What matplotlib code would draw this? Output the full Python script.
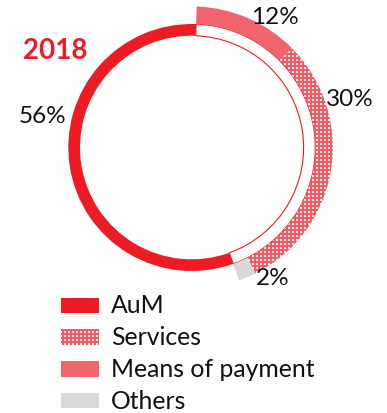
import matplotlib
matplotlib.use("Agg")
import matplotlib.pyplot as plt
from matplotlib.patches import Wedge, Rectangle
import numpy as np

plt.rcParams['font.family'] = ['Lato', 'DejaVu Sans']

year = "2018"
categories = ['AuM', 'Services', 'Means of payment', 'Others']
shares = [56, 30, 12, 2]
labels = ['56%', '30%', '12%', '2%']

RED = '#ED1C24'
MEANS = '#F0656D'
GREY = '#D9D9D9'

W, H = 387, 414
fig = plt.figure(figsize=(W / 100, H / 100), dpi=100)
ax = fig.add_axes([0, 0, 1, 1])
ax.set_xlim(0, W)
ax.set_ylim(H, 0)
ax.axis('off')

# red/white dot texture used for "Services"
yy, xx = np.mgrid[0:H, 0:W]
dots = ((xx % 4) < 2) & ((yy % 4) < 2)
tex = np.zeros((H, W, 3))
tex[:] = matplotlib.colors.to_rgb('#F25A64')
tex[dots] = matplotlib.colors.to_rgb('#FFF0F1')


def textured(patch):
    ax.add_patch(patch)
    im = ax.imshow(tex, extent=(0, W, H, 0), interpolation='nearest', zorder=patch.get_zorder())
    im.set_clip_path(patch)


cx, cy = 191.8, 148.5
r_in, r_out = 111.8, 123.5      # AuM ring
o_in, o_out = 123.5, 141.0      # pulled-out ring for the rest
start = -90 + 2                 # screen y points down, so angles run clockwise

share = dict(zip(categories, shares))
rest = sum(shares) - share['AuM']
rest_deg = rest * 3.6

# AuM arc on the left
ax.add_patch(Wedge((cx, cy), r_out, start + rest_deg, start + 360,
                   width=r_out - r_in, color=RED, lw=0))
# empty slot left by the other segments
ax.add_patch(Wedge((cx, cy), r_out, start, start + rest_deg,
                   width=r_out - r_in, facecolor='white', edgecolor=RED, lw=0.8))

# outer segments, clockwise from the top
a = start
for name, col in [('Means of payment', MEANS), ('Services', None), ('Others', GREY)]:
    b = a + share[name] * 3.6
    if col is None:
        textured(Wedge((cx, cy), o_out, a, b, width=o_out - o_in, lw=0, facecolor='none', zorder=2))
    else:
        ax.add_patch(Wedge((cx, cy), o_out, a, b, width=o_out - o_in, color=col, lw=0, zorder=2))
    a = b

# value labels
lab_pos = [(42.5, 117), (349.5, 100), (275, 18), (273, 279)]
for t, (x, y) in zip(labels, lab_pos):
    ax.text(x, y, t, fontsize=17.5, ha='center', va='center', color='#111111')

ax.text(55.5, 51, year, fontsize=20, fontweight='bold', color=RED, ha='center', va='center')

# legend
leg_colors = [RED, None, MEANS, GREY]
for i, (name, col) in enumerate(zip(categories, leg_colors)):
    y0 = 298.5 + i * 31.8
    if col is None:
        textured(Rectangle((61, y0), 38, 15.5, facecolor='none', lw=0, zorder=2))
    else:
        ax.add_patch(Rectangle((61, y0), 38, 15.5, color=col, lw=0))
    ax.text(111, y0 + 7.3, name, fontsize=17.8, va='center', ha='left', color='#111111')

fig.savefig('out.png', dpi=100)
